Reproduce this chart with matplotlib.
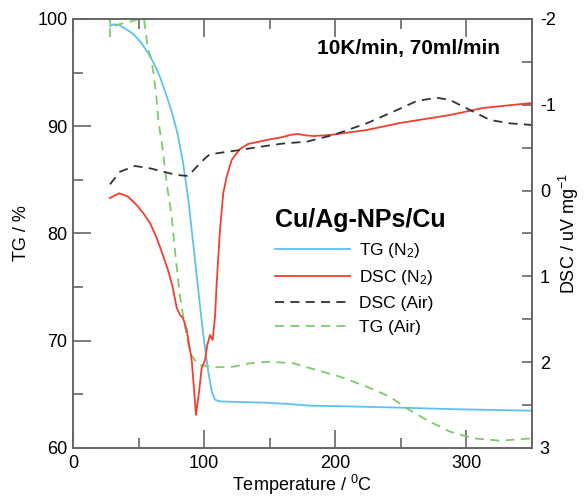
import matplotlib
matplotlib.use("Agg")
import matplotlib.pyplot as plt
from matplotlib.ticker import MultipleLocator

plt.rcParams['font.family'] = ['Liberation Sans', 'DejaVu Sans']
plt.rcParams['mathtext.fontset'] = 'custom'
plt.rcParams['mathtext.rm'] = 'Liberation Sans'
plt.rcParams['mathtext.it'] = 'Liberation Sans:italic'
plt.rcParams['mathtext.bf'] = 'Liberation Sans:bold'
plt.rcParams['axes.unicode_minus'] = False

# ---- data ----
tg_n2_T = [28.2, 31, 35, 40, 46, 52, 57, 62, 66.4, 71, 76, 80, 84, 88, 91, 94.5, 99, 103, 106, 108.5,
           112, 125, 148, 165, 181, 210, 250, 290, 350]
tg_n2 = [99.35, 99.5, 99.45, 99.1, 98.6, 97.8, 96.9, 95.8, 94.6, 93.0, 91.1, 89.2, 86.6, 83.2, 79.9, 76.0,
         71.0, 67.3, 65.2, 64.5, 64.35, 64.3, 64.22, 64.1, 63.95, 63.88, 63.76, 63.62, 63.48]

dsc_n2_T = [28.2, 35.3, 42, 48.6, 54, 58.8, 63, 66.4, 72.5, 76, 79.2, 81.7, 84.0, 86.8, 90.6, 93.9, 96.4,
            98.2, 100.8, 102.5, 104.6, 106.6, 108.4, 109.7, 110.9, 112.2, 114.7, 117.3, 121.1, 127.5, 133.6,
            147.9, 160.3, 166, 171.8, 177, 183.2, 196.2, 224.2, 249.6, 287.8, 313, 350]
dsc_n2 = [0.086, 0.031, 0.07, 0.168, 0.27, 0.378, 0.52, 0.657, 0.925, 1.12, 1.368, 1.45, 1.485, 1.625, 1.974,
          2.615, 2.324, 2.068, 1.974, 1.80, 1.683, 1.741, 1.473, 1.077, 0.774, 0.459, 0.028, -0.159, -0.357,
          -0.485, -0.543, -0.590, -0.625, -0.65, -0.660, -0.645, -0.636, -0.648, -0.706, -0.788, -0.881,
          -0.963, -1.021]

dsc_air_T = [28.2, 35.9, 47.3, 58.8, 68.9, 79.2, 88.0, 95.6, 102.1, 104.6, 114.7, 127.5, 140.2, 160.5, 178.4,
             198.7, 224.2, 244.5, 262.4, 277.6, 287.8, 303.1, 318.3, 333.6, 350]
dsc_air = [-0.073, -0.220, -0.287, -0.260, -0.220, -0.182, -0.170, -0.298, -0.395, -0.423, -0.446, -0.473,
           -0.505, -0.549, -0.570, -0.648, -0.784, -0.920, -1.044, -1.083, -1.056, -0.939, -0.823, -0.784, -0.765]

tg_air_T = [28.2, 28.3, 28.6, 35.9, 44.8, 49.6, 54.2, 55.0, 57.3, 60.0, 63.4, 65.1, 68.5, 71.5, 75.3, 78.6,
            81.7, 85.5, 89.3, 95.7, 109.7, 122.4, 135.1, 150.4, 168.2, 186, 203.8, 224.2, 242, 254.7, 270,
            287.8, 305.6, 326, 350]
tg_air = [98.3, 100.0, 99.25, 99.53, 99.79, 99.97, 99.95, 99.25, 97.2, 96.2, 93.1, 90.6, 87.8, 84.7, 81.6,
          77.5, 74.1, 71.3, 68.85, 67.74, 67.53, 67.58, 67.9, 68.05, 67.9, 67.27, 66.65, 65.72, 64.78, 63.7,
          62.61, 61.52, 60.9, 60.68, 60.9]

labels = ["TG (N$_2$)", "DSC (N$_2$)", "DSC (Air)", "TG (Air)"]
colors = ["#5cc3ec", "#f0402f", "#333333", "#7dcb6c"]

# ---- figure ----
fig = plt.figure(figsize=(5.85, 4.99), dpi=100)
ax = fig.add_axes([73/585, 1-448/499, (531.5-73)/585, (448-19)/499])
ax2 = ax.twinx()

l1, = ax.plot(tg_n2_T, tg_n2, color=colors[0], lw=1.3, label=labels[0])
l4, = ax.plot(tg_air_T, tg_air, color=colors[3], lw=1.3, ls=(0, (5, 3.5)), label=labels[3])
l2, = ax2.plot(dsc_n2_T, dsc_n2, color=colors[1], lw=1.3, label=labels[1])
l3, = ax2.plot(dsc_air_T, dsc_air, color=colors[2], lw=1.3, ls=(0, (5, 3.5)), label=labels[2])

ax.set_xlim(0, 350)
ax.set_ylim(60, 100)
ax2.set_ylim(3, -2)

spine_c = "#666666"
for a in (ax, ax2):
    for s in a.spines.values():
        s.set_color(spine_c)
        s.set_linewidth(1.2)

ax.xaxis.set_major_locator(MultipleLocator(100))
ax.xaxis.set_minor_locator(MultipleLocator(50))
ax.yaxis.set_major_locator(MultipleLocator(10))
ax.yaxis.set_minor_locator(MultipleLocator(5))
ax2.yaxis.set_major_locator(MultipleLocator(1))
ax2.yaxis.set_minor_locator(MultipleLocator(0.5))

ax.tick_params(axis='x', which='both', direction='in', top=True, bottom=True, color=spine_c, width=1.2,
               labelsize=13, pad=5)
ax.tick_params(axis='x', which='major', length=13)
ax.tick_params(axis='x', which='minor', length=7)
ax.tick_params(axis='y', which='both', direction='in', left=True, right=False, color=spine_c, width=1.2,
               labelsize=13, pad=4)
ax.tick_params(axis='y', which='major', length=13)
ax.tick_params(axis='y', which='minor', length=7)
ax2.tick_params(axis='y', which='both', direction='in', color=spine_c, width=1.2, labelsize=13, pad=6,
                length=7)

ax2.yaxis.set_major_formatter(matplotlib.ticker.FuncFormatter(lambda v, p: "%d" % round(v)))

ax.set_xlabel("Temperature / $^{0}$C", fontsize=13, labelpad=1)
ax.set_ylabel("TG / %", fontsize=13, labelpad=5)
ax2.set_ylabel("DSC / uV mg$^{-1}$", fontsize=13, labelpad=1)

ax.text(0.931, 0.932, "10K/min, 70ml/min", transform=ax.transAxes, ha='right', va='center',
        fontsize=15, fontweight='bold')

leg = ax2.legend(handles=[l1, l2, l3, l4], loc='upper left', bbox_to_anchor=(275/585, 1-208/499),
                 bbox_transform=fig.transFigure, frameon=False, fontsize=12.5, handlelength=4.3,
                 handletextpad=0.55, labelspacing=0.5, borderpad=0, borderaxespad=0,
                 title="Cu/Ag-NPs/Cu", title_fontproperties={'weight': 'bold', 'size': 18},
                 alignment='left')

fig.savefig("out.png", dpi=100)
